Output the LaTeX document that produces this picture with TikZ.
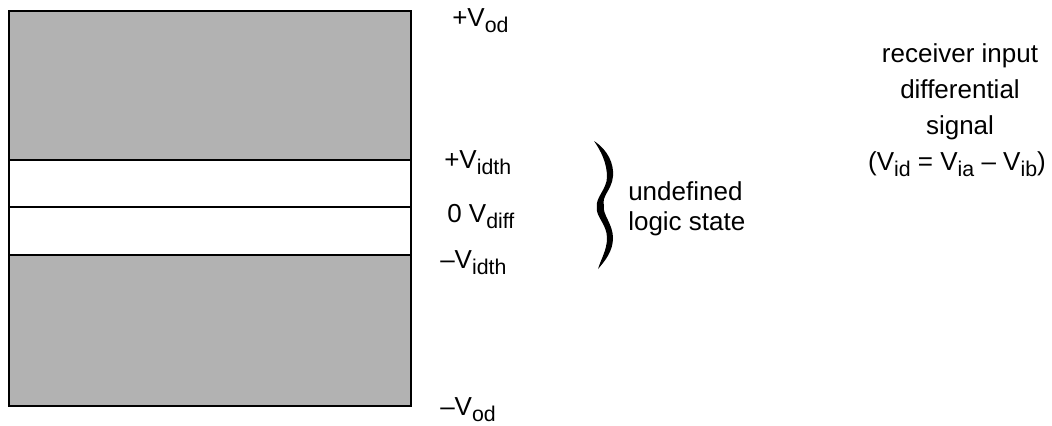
\documentclass[tikz,border=0pt]{standalone}
\usepackage{fontspec}
\setmainfont{Liberation Sans}
\definecolor{bandgray}{HTML}{B2B2B2}
\newcommand{\subs}[1]{\raisebox{-5pt}{\fontsize{16}{16}\selectfont #1}}
\tikzset{
  lbl/.style={anchor=base west, inner sep=0pt, font=\fontsize{19.5}{22.5}\selectfont},
  ctr/.style={anchor=base, inner sep=0pt, font=\fontsize{19.5}{22.5}\selectfont},
  band/.style={draw=black, line width=1.5pt},
}
\begin{document}
\begin{tikzpicture}[x=0.75pt, y=-0.75pt]
\useasboundingbox (0,0) rectangle (1052,425);
% bands
\fill[bandgray] (9,11) rectangle (411,160);
\fill[bandgray] (9,255) rectangle (411,406);
\draw[band] (9,11) rectangle (411,406);
\draw[band] (9,160) -- (411,160);
\draw[band] (9,207) -- (411,207);
\draw[band] (9,255) -- (411,255);
% level labels
\node[lbl] (pod) at (452,26) {+V\subs{od}};
\node[lbl] (pidth) at (444,168) {+V\subs{idth}};
\node[lbl] (zero) at (447,222) {0 V\subs{diff}};
\node[lbl] (midth) at (440,268) {\textendash V\subs{idth}};
\node[lbl] (mod) at (440,415) {\textendash V\subs{od}};
% brace
\fill[black] (594,141) .. controls (608,150) and (614,164) .. (613,176)
  .. controls (612,190) and (601,196) .. (604,206)
  .. controls (602,214) and (613,224) .. (613,238)
  .. controls (613,251) and (605,261) .. (598,269)
  .. controls (601,259) and (607,250) .. (607,238)
  .. controls (607,224) and (595,216) .. (597,207)
  .. controls (595,198) and (607,189) .. (607,177)
  .. controls (607,163) and (601,151) .. (594,141) -- cycle;
\node[lbl] (und1) at (628,200) {undefined};
\node[lbl] (und2) at (628,230) {logic state};
% receiver text
\node[ctr] (r1) at (960,62) {receiver input};
\node[ctr] (r2) at (960,98) {differential};
\node[ctr] (r3) at (960,134) {signal};
\node[ctr] (r4) at (957,170) {(V\subs{id} = V\subs{ia} \textendash{} V\subs{ib})};
\end{tikzpicture}
\end{document}
